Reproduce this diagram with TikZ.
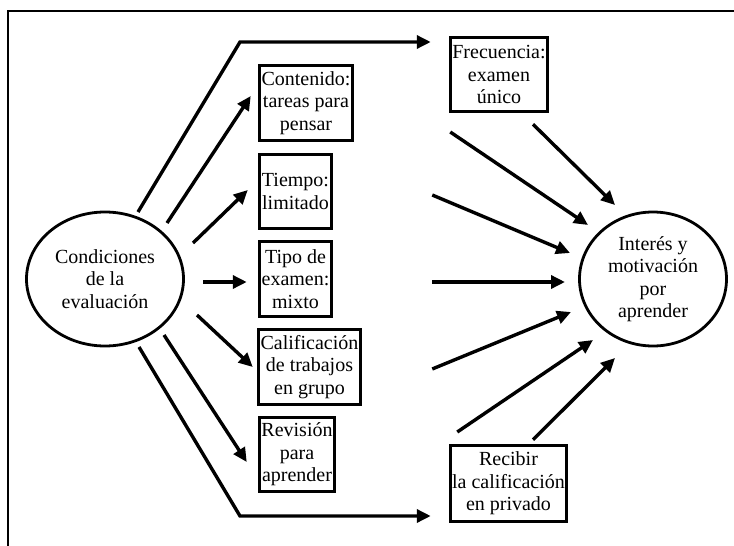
\documentclass[tikz,border=0pt]{standalone}
\usepackage{fontspec}
\setmainfont{Liberation Serif}
\usetikzlibrary{arrows.meta,calc,shapes.geometric}
\begin{document}
\begin{tikzpicture}[x=1pt,y=-1pt,
  lbl/.style={font=\fontsize{20}{22.5}\selectfont, align=center, inner sep=0pt},
  oval/.style={lbl, ellipse, draw, line width=2.8pt},
  card/.style={lbl, rectangle, draw, line width=3.5pt},
  arr/.style={line width=3.4pt, -{Triangle[length=14pt,width=13pt]}},
  bent/.style={arr, line join=miter},
  frameline/.style={line width=2.2pt}]
\useasboundingbox (0,0) rectangle (734,546);

% outer frame (left and top sides)
\draw[frameline] (8,546) -- (8,11) -- (734,11);

% central ovals
\node[oval, minimum width=157pt, minimum height=134pt] (cond) at (105,279)
  {Condiciones\\de la\\evaluación};
\node[oval, minimum width=147pt, minimum height=134pt] (goal) at (653,279)
  {Interés y\\motivación\\por\\aprender};

% condition boxes
\node[card, minimum width=93pt, minimum height=75pt] (cont) at (306,103)
  {Contenido:\\tareas para\\pensar};
\node[card, minimum width=97pt, minimum height=74pt] (freq) at (499,74.5)
  {Frecuencia:\\examen\\único};
\node[card, minimum width=72pt, minimum height=74pt] (tiem) at (295.5,191.5)
  {Tiempo:\\limitado};
\node[card, minimum width=72pt, minimum height=75pt] (tipo) at (295.5,279)
  {Tipo de\\examen:\\mixto};
\node[card, minimum width=102pt, minimum height=75pt] (calif) at (309.5,367)
  {Calificación\\de trabajos\\en grupo};
\node[card, minimum width=75pt, minimum height=74pt] (rev) at (297,454.5)
  {Revisión\\para\\aprender};
\node[card, minimum width=116pt, minimum height=76pt] (rec) at (508.5,483.5)
  {Recibir\\la calificación\\en privado};

% bend points of the two outer connectors
\coordinate (topbend) at (240,42);
\coordinate (botbend) at (240,516);

% from the conditions oval to each box
\draw[bent] ($(cond)+(33,-67)$) -- (topbend) -- ($(freq.west)+(-18,-32.5)$);
\draw[arr] ($(cond)+(62,-56)$) -- ($(cont.west)+(-7,-7)$);
\draw[arr] ($(cond)+(88,-36)$) -- ($(tiem.west)+(-10,-1.5)$);
\draw[arr] ($(cond)+(98,3)$) -- ($(tipo.west)+(-11,3)$);
\draw[arr] ($(cond)+(92,36)$) -- ($(calif.west)+(-4,0)$);
\draw[arr] ($(cond)+(59,56)$) -- ($(rev.west)+(-11,7.5)$);
\draw[bent] ($(cond)+(34,68)$) -- (botbend) -- ($(rec.west)+(-18,32.5)$);

% from the boxes towards the interest oval
\draw[arr] ($(freq.south)+(34,11)$) -- ($(goal)+(-38,-74)$);
\draw[arr] ($(cont.east)+(96,29)$) -- ($(goal)+(-65,-54)$);
\draw[arr] ($(tiem.east)+(99,3.5)$) -- ($(goal)+(-83,-26)$);
\draw[arr] ($(tipo.east)+(99,3)$) -- ($(goal)+(-88,3)$);
\draw[arr] ($(calif.east)+(70,2)$) -- ($(goal)+(-82,33)$);
\draw[arr] ($(rev.east)+(121,-22.5)$) -- ($(goal)+(-60,61)$);
\draw[arr] ($(rec.north)+(24.5,-4)$) -- ($(goal)+(-38,79)$);
\end{tikzpicture}
\end{document}
